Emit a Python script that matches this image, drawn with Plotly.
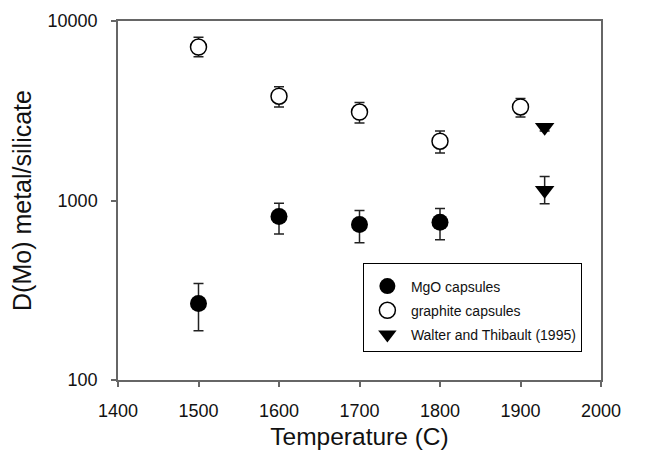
import plotly.graph_objects as go

# MgO capsules
mgo_T = [1500, 1600, 1700, 1800]
mgo_D = [267, 814, 735, 756]
mgo_err_plus = [78, 152, 145, 147]
mgo_err_minus = [79, 163, 153, 151]

# graphite capsules
gr_T = [1500, 1600, 1700, 1800, 1900]
gr_D = [7160, 3810, 3110, 2140, 3320]
gr_err_plus = [950, 490, 405, 300, 380]
gr_err_minus = [840, 490, 410, 300, 400]

# Walter and Thibault (1995)
wt_T = [1930, 1930]
wt_D = [2560, 1140]
wt_err_plus = [120, 220]
wt_err_minus = [120, 180]

x_ticks = [1400, 1500, 1600, 1700, 1800, 1900, 2000]
y_ticks = [100, 1000, 10000]
y_ticktext = ["100", "1000", "10000"]

FONT = "Liberation Sans, Arial, sans-serif"
TXT = "#111"
err_style = dict(type="data", symmetric=False, color="#222", thickness=1.5, width=5)

fig = go.Figure()
fig.add_trace(go.Scatter(
    x=mgo_T, y=mgo_D, mode="markers", name="MgO capsules", legendgroup="a",
    marker=dict(symbol="circle", size=17, color="black", line=dict(width=0)),
    error_y=dict(array=mgo_err_plus, arrayminus=mgo_err_minus, **err_style),
))
fig.add_trace(go.Scatter(
    x=gr_T, y=gr_D, mode="markers", name="graphite capsules", legendgroup="b",
    marker=dict(symbol="circle", size=16, color="white", line=dict(width=1.5, color="black")),
    error_y=dict(array=gr_err_plus, arrayminus=gr_err_minus, **err_style),
))
fig.add_trace(go.Scatter(
    x=wt_T, y=wt_D, mode="markers", name="Walter and Thibault (1995)", legendgroup="c",
    marker=dict(symbol="triangle-down", size=17, color="black", line=dict(width=0)),
    error_y=dict(array=wt_err_plus, arrayminus=wt_err_minus, **err_style),
))

axis_common = dict(
    showline=True, linecolor="#666", linewidth=1.5, mirror=True,
    ticks="outside", ticklen=5, tickwidth=1.5, tickcolor="#666",
    showgrid=False, zeroline=False, automargin=False,
    tickfont=dict(family=FONT, size=18, color=TXT),
)

fig.update_layout(
    width=655, height=453,
    margin=dict(l=110, r=62, t=13, b=81),
    paper_bgcolor="white", plot_bgcolor="white",
    font=dict(family=FONT, color=TXT),
    xaxis=dict(range=[1400, 2000], tickvals=x_ticks, ticklabelstandoff=9,
               title=dict(text="Temperature (C)", font=dict(family=FONT, size=24.5, color=TXT), standoff=8),
               **axis_common),
    yaxis=dict(type="log", range=[2, 4], tickvals=y_ticks, ticktext=y_ticktext, ticklabelstandoff=10,
               title=dict(text="D(Mo) metal/silicate", font=dict(family=FONT, size=25, color=TXT), standoff=14),
               **axis_common),
    legend=dict(x=0.507, y=0.326, xanchor="left", yanchor="top",
                bordercolor="black", borderwidth=1, bgcolor="white",
                font=dict(family=FONT, size=14, color=TXT),
                title=dict(text=" ", font=dict(size=5)),
                itemwidth=37, tracegroupgap=3),
    showlegend=True,
)

fig.write_html("out.html")
